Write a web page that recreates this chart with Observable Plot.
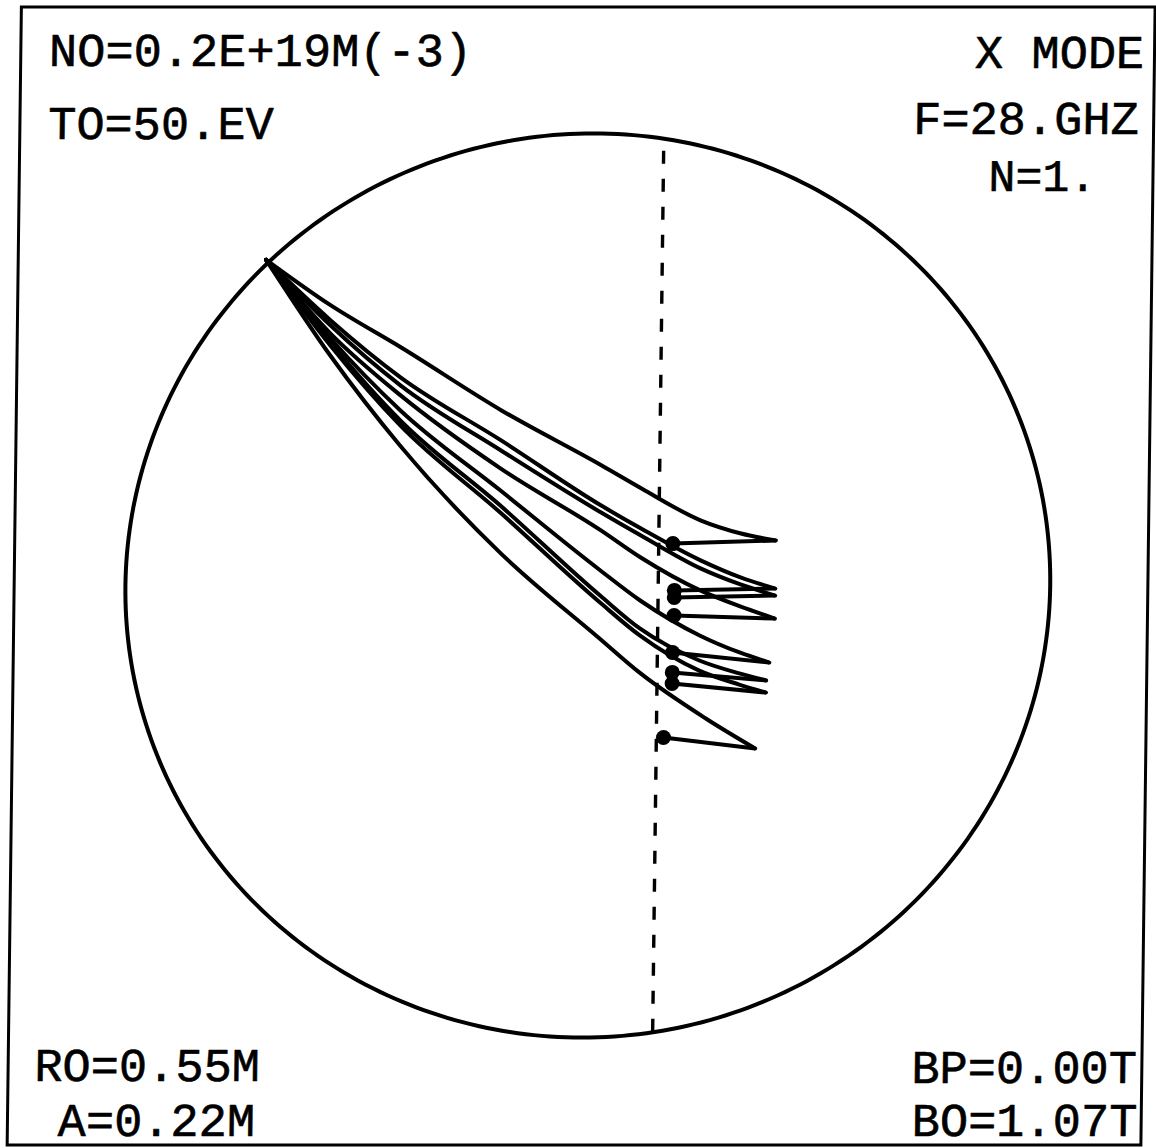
<!DOCTYPE html>
<html>
<head>
<meta charset="utf-8">
<script src="https://cdn.jsdelivr.net/npm/d3@7"></script>
<script src="https://cdn.jsdelivr.net/npm/@observablehq/plot@0.6"></script>
<style>
  html, body { margin: 0; padding: 0; background: #fff; }
  #chart svg { display: block; transform: skewX(-0.716deg); transform-origin: 578px 574px; }
</style>
</head>
<body>
<div id="chart"></div>
<script>
// ---- Labels (as printed on the plot) ----
const labelDensity = "NO=0.2E+19M(-3)";
const labelTemp = "TO=50.EV";
const labelMode = "X MODE";
const labelFreq = "F=28.GHZ";
const labelIndex = "N=1.";
const labelMajor = "RO=0.55M";
const labelMinor = "A=0.22M";
const labelBp = "BP=0.00T";
const labelB0 = "BO=1.07T";

// ---- Geometry (metres) ----
const majorRadius = 0.55;     // R0
const minorRadius = 0.22;     // A
const resonanceR = 0.5835;    // cyclotron resonance layer (dashed)
const frameR = [0.2773, 0.8167];
const frameZ = [-0.2725, 0.2813];

// ---- Ray traces: R (m) and Z (m) along each ray, launch -> turning point ----
const rayNames = ["A", "B", "C", "D", "E", "F", "G", "H"];
const rayR = [
  [0.3950, 0.4261, 0.4598, 0.5079, 0.5559, 0.5750, 0.6035, 0.6226, 0.6392],
  [0.3950, 0.4261, 0.4598, 0.5079, 0.5559, 0.5750, 0.6035, 0.6226, 0.6392],
  [0.3950, 0.4261, 0.4598, 0.5079, 0.5559, 0.5750, 0.6035, 0.6226, 0.6392],
  [0.3950, 0.4261, 0.4598, 0.5079, 0.5559, 0.5750, 0.6035, 0.6226, 0.6392],
  [0.3950, 0.4261, 0.4598, 0.5079, 0.5559, 0.5750, 0.6035, 0.6226, 0.6368],
  [0.3950, 0.4261, 0.4598, 0.5079, 0.5559, 0.5750, 0.6035, 0.6226, 0.6354],
  [0.3950, 0.4261, 0.4598, 0.5079, 0.5559, 0.5750, 0.6035, 0.6226, 0.6354],
  [0.3950, 0.4261, 0.4598, 0.5079, 0.5559, 0.5750, 0.6069, 0.6306]
];
const rayZ = [
  [0.1585, 0.1363, 0.1158, 0.0852, 0.0584, 0.0472, 0.0316, 0.0253, 0.0219],
  [0.1585, 0.1290, 0.1012, 0.0706, 0.0389, 0.0277, 0.0122, 0.0039, -0.0015],
  [0.1585, 0.1265, 0.0973, 0.0657, 0.0355, 0.0243, 0.0083, 0.0005, -0.0049],
  [0.1585, 0.1226, 0.0925, 0.0569, 0.0268, 0.0136, -0.0024, -0.0102, -0.0161],
  [0.1585, 0.1202, 0.0852, 0.0462, 0.0073, -0.0073, -0.0243, -0.0326, -0.0375],
  [0.1585, 0.1182, 0.0803, 0.0389, -0.0049, -0.0209, -0.0365, -0.0428, -0.0462],
  [0.1585, 0.1168, 0.0779, 0.0355, -0.0083, -0.0243, -0.0414, -0.0482, -0.0521],
  [0.1585, 0.1119, 0.0681, 0.0161, -0.0258, -0.0423, -0.0647, -0.0793]
];
// absorption end points (after reflecting back to the resonance)
const absorbR = [0.5902, 0.5912, 0.5912, 0.5912, 0.5907, 0.5907, 0.5907, 0.5869];
const absorbZ = [0.0204, -0.0024, -0.0058, -0.0146, -0.0326, -0.0423, -0.0477, -0.0740];

// ---- Build tables ----
const rayRows = rayNames.flatMap((name, i) =>
  rayR[i].map((r, j) => ({ray: name, R: r, Z: rayZ[i][j]})));
const returnRows = rayNames.map((name, i) => ({
  ray: name,
  R1: rayR[i][rayR[i].length - 1], Z1: rayZ[i][rayZ[i].length - 1],
  R2: absorbR[i], Z2: absorbZ[i]
}));
const boundary = d3.range(0, 361, 1).map(deg => {
  const t = deg * Math.PI / 180;
  return {R: majorRadius + minorRadius * Math.cos(t), Z: minorRadius * Math.sin(t)};
});
const zRes = Math.sqrt(minorRadius ** 2 - (resonanceR - majorRadius) ** 2);

const W = 1156, H = 1148;
const font = "Liberation Mono, DejaVu Sans Mono, monospace";
const txt = (s, dx, dy, size = 47) => Plot.text([s], {
  text: d => d, frameAnchor: "top-left", dx, dy, textAnchor: "start",
  lineAnchor: "bottom", fontSize: size, fontFamily: font, fill: "#000",
  stroke: "#000", strokeWidth: 0.6
});

const chart = Plot.plot({
  width: W, height: H, margin: 0,
  x: {domain: [0.2705, 0.8205], axis: null},
  y: {domain: [-0.27397, 0.28467], axis: null},
  style: {background: "#fff", overflow: "visible"},
  marks: [
    Plot.rect([0], {x1: frameR[0], x2: frameR[1], y1: frameZ[0], y2: frameZ[1],
      fill: "none", stroke: "#000", strokeWidth: 3}),
    Plot.line(boundary, {x: "R", y: "Z", stroke: "#000", strokeWidth: 4}),
    Plot.ruleX([resonanceR], {y1: -zRes, y2: zRes, stroke: "#000",
      strokeWidth: 3.4, strokeDasharray: "13 15"}),
    Plot.line(rayRows, {x: "R", y: "Z", z: "ray", curve: "monotone-x",
      stroke: "#000", strokeWidth: 4}),
    Plot.link(returnRows, {x1: "R1", y1: "Z1", x2: "R2", y2: "Z2",
      stroke: "#000", strokeWidth: 4}),
    Plot.dot(returnRows, {x: "R2", y: "Z2", r: 7.5, fill: "#000"}),
    txt(labelDensity, 42, 65),
    txt(labelTemp, 42, 138),
    txt(labelMode, 968, 67),
    txt(labelFreq, 907, 133),
    txt(labelIndex, 983, 190, 45),
    txt(labelMajor, 40, 1080),
    txt(labelMinor, 64, 1135),
    txt(labelBp, 917, 1082),
    txt(labelB0, 918, 1135)
  ]
});
document.getElementById("chart").appendChild(chart);
</script>
</body>
</html>
